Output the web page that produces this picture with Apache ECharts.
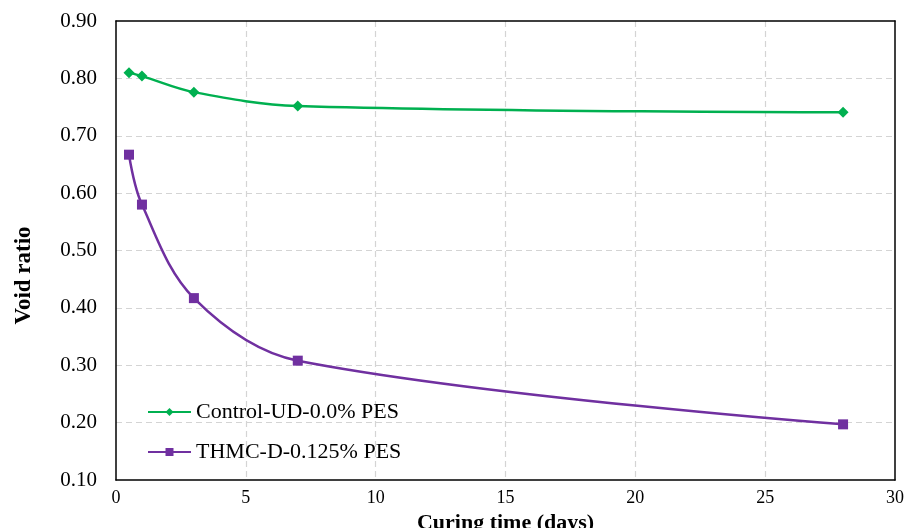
<!DOCTYPE html>
<html>
<head>
<meta charset="utf-8">
<script src="https://cdn.jsdelivr.net/npm/echarts@6/dist/echarts.min.js"></script>
<style>
  html, body { margin: 0; padding: 0; background: #fff; }
  #chart { width: 915px; height: 528px; }
</style>
</head>
<body>
<div id="chart"></div>
<script>
// curing time (days)
var days = [0.5, 1, 3, 7, 28];
// void ratio per mix
var controlUD = [0.810, 0.804, 0.776, 0.752, 0.741];
var thmcD = [0.667, 0.580, 0.417, 0.308, 0.197];

var seriesNames = ["Control-UD-0.0% PES", "THMC-D-0.125% PES"];

function pairs(xs, ys) {
    var out = [];
    for (var i = 0; i < xs.length; i++) out.push([xs[i], ys[i]]);
    return out;
}

var font = "'Liberation Serif', 'Times New Roman', serif";
var gridLine = { show: true, showMinLine: false, showMaxLine: false, lineStyle: { color: "#d4d4d4", type: [6, 4], width: 1.2 } };
var frameLine = { show: true, onZero: false, lineStyle: { color: "#000", width: 1.5 } };
var chart = echarts.init(document.getElementById("chart"));

chart.setOption({
    animation: false,
    backgroundColor: "#fff",
    textStyle: { fontFamily: font, color: "#000" },
    grid: { left: 116, right: 20, top: 21, bottom: 48, containLabel: false, outerBoundsMode: "none" },
    legend: {
        orient: "vertical",
        left: 142,
        top: 396,
        itemGap: 18,
        itemWidth: 43,
        itemHeight: 10,
        textStyle: { fontFamily: font, fontSize: 22, color: "#000" },
        data: seriesNames
    },
    xAxis: [ {
        type: "value",
        min: 0,
        max: 30,
        interval: 5,
        name: "Curing time (days)",
        nameLocation: "middle",
        nameGap: 26,
        nameTextStyle: { fontFamily: font, fontSize: 22, fontWeight: "bold", color: "#000" },
        axisLine: frameLine,
        axisTick: { show: false },
        axisLabel: { fontFamily: font, fontSize: 18, color: "#000", margin: 9 },
        splitLine: gridLine
    }, {
        type: "value",
        position: "top",
        min: 0,
        max: 30,
        interval: 5,
        axisLine: frameLine,
        axisTick: { show: false },
        axisLabel: { show: false },
        splitLine: { show: false }
    } ],
    yAxis: [ {
        type: "value",
        min: 0.1,
        max: 0.9,
        interval: 0.1,
        name: "Void ratio",
        nameLocation: "middle",
        nameGap: 80,
        nameTextStyle: { fontFamily: font, fontSize: 23, fontWeight: "bold", color: "#000", padding: [0, 50, 0, 0] },
        axisLine: frameLine,
        axisTick: { show: false },
        axisLabel: {
            fontFamily: font, fontSize: 21, color: "#000", margin: 19,
            formatter: function(v) { return v.toFixed(2); }
        },
        splitLine: gridLine
    }, {
        type: "value",
        position: "right",
        min: 0.1,
        max: 0.9,
        interval: 0.1,
        axisLine: frameLine,
        axisTick: { show: false },
        axisLabel: { show: false },
        splitLine: { show: false }
    } ],
    series: [ {
        name: seriesNames[0],
        type: "line",
        smooth: 0.35,
        symbol: "diamond",
        symbolSize: 11,
        itemStyle: { color: "#00b050" },
        lineStyle: { color: "#00b050", width: 2.5 },
        data: pairs(days, controlUD)
    }, {
        name: seriesNames[1],
        type: "line",
        smooth: 0.35,
        symbol: "rect",
        symbolSize: 10,
        itemStyle: { color: "#7030a0" },
        lineStyle: { color: "#7030a0", width: 2.5 },
        data: pairs(days, thmcD)
    } ]
});
</script>
</body>
</html>
